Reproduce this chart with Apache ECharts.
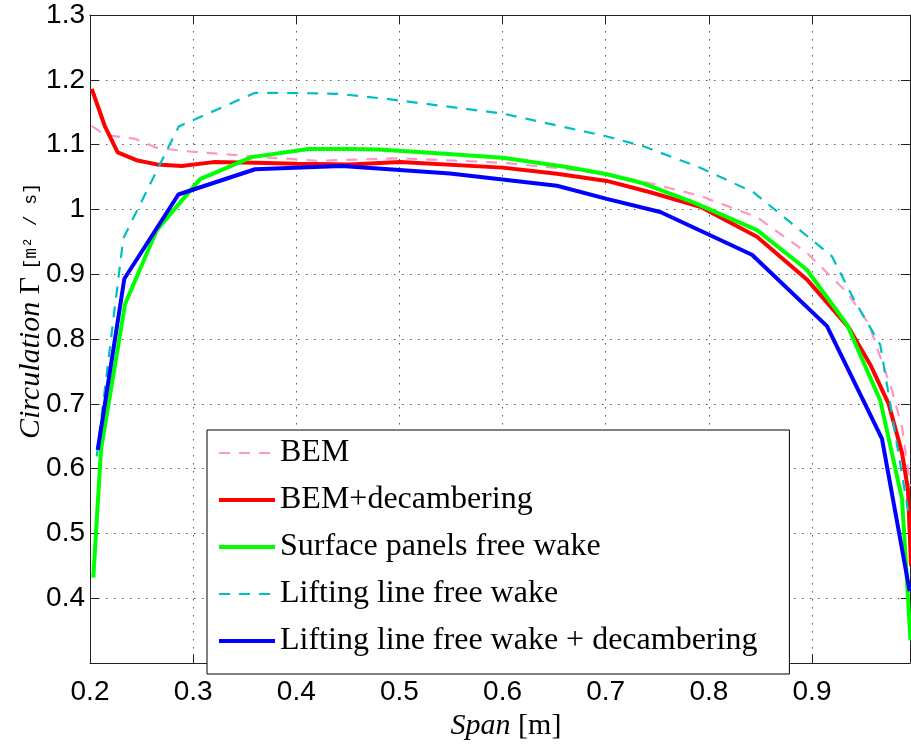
<!DOCTYPE html>
<html>
<head>
<meta charset="utf-8">
<script src="https://cdn.jsdelivr.net/npm/echarts@6/dist/echarts.min.js"></script>
<style>
html,body{margin:0;padding:0;background:#fff;}
#chart{width:911px;height:746px;}
</style>
</head>
<body>
<div id="chart"></div>
<script>
// ---- Data ----
const seriesNames = ['BEM', 'BEM+decambering', 'Surface panels free wake', 'Lifting line free wake', 'Lifting line free wake + decambering'];

const bemX = [0.2017, 0.2145, 0.2436, 0.2647, 0.2921, 0.3568, 0.4214, 0.4587, 0.5007, 0.6000, 0.6527, 0.7012, 0.7335, 0.7917, 0.8467, 0.8950, 0.9339, 0.9549, 0.9776, 0.9873, 0.9953];
const bemY = [1.129, 1.115, 1.109, 1.095, 1.090, 1.082, 1.075, 1.077, 1.079, 1.072, 1.064, 1.054, 1.044, 1.021, 0.988, 0.933, 0.872, 0.824, 0.720, 0.664, 0.573];

const bemDecX = [0.2017, 0.2145, 0.2268, 0.2450, 0.2647, 0.2890, 0.3196, 0.3600, 0.4000, 0.4520, 0.5007, 0.6000, 0.6527, 0.7010, 0.7432, 0.7917, 0.8467, 0.8950, 0.9355, 0.9565, 0.9743, 0.9873, 0.9930, 0.9960];
const bemDecY = [1.186, 1.128, 1.088, 1.076, 1.0695, 1.067, 1.073, 1.072, 1.0705, 1.0695, 1.073, 1.0645, 1.055, 1.044, 1.0265, 1.004, 0.958, 0.892, 0.818, 0.7605, 0.700, 0.624, 0.568, 0.450];

const panelX = [0.2032, 0.2107, 0.2340, 0.2647, 0.3067, 0.3568, 0.4118, 0.4520, 0.4797, 0.5330, 0.6000, 0.6623, 0.7012, 0.7335, 0.7850, 0.8467, 0.8950, 0.9340, 0.9662, 0.9873, 0.9955];
const panelY = [0.432, 0.630, 0.854, 0.968, 1.0467, 1.0807, 1.0933, 1.0933, 1.0923, 1.0872, 1.0796, 1.0655, 1.0543, 1.0416, 1.011, 0.968, 0.907, 0.822, 0.705, 0.553, 0.335];

const llX = [0.2065, 0.2243, 0.2323, 0.2860, 0.3600, 0.4020, 0.4408, 0.4861, 0.6000, 0.7012, 0.7366, 0.7917, 0.8433, 0.9193, 0.9404, 0.9662, 0.9937];
const llY = [0.619, 0.852, 0.9555, 1.128, 1.180, 1.1795, 1.1784, 1.1708, 1.148, 1.1126, 1.0974, 1.0644, 1.0264, 0.9277, 0.8618, 0.7909, 0.530];

const llDecX = [0.2075, 0.2333, 0.2857, 0.3600, 0.4441, 0.5490, 0.6527, 0.7010, 0.7529, 0.8418, 0.9145, 0.9678, 0.9947];
const llDecY = [0.629, 0.893, 1.023, 1.062, 1.067, 1.0553, 1.0366, 1.0163, 0.996, 0.930, 0.820, 0.6465, 0.411];

const xTicks = { min: 0.2, max: 0.995, interval: 0.1 };
const yTicks = { min: 0.3, max: 1.3, interval: 0.1 };

// ---- Build ----
function zip(xs, ys) { return xs.map((x, i) => [x, ys[i]]); }

const serif = 'Liberation Serif';
const sans = 'Liberation Sans';

const axisCommonX = {
  type: 'value', min: xTicks.min, max: xTicks.max, interval: xTicks.interval
};
const axisCommonY = {
  type: 'value', min: yTicks.min, max: yTicks.max, interval: yTicks.interval
};
const lineCol = '#222';

const chart = echarts.init(document.getElementById('chart'), null, { renderer: 'canvas' });

const seriesStyles = [
  { color: '#ff96c8', width: 2.2, type: [11, 9] },
  { color: '#ff0000', width: 4, type: 'solid' },
  { color: '#00ff00', width: 4, type: 'solid' },
  { color: '#00bfbf', width: 2.2, type: [11, 9] },
  { color: '#0000ff', width: 4, type: 'solid' }
];
const dataSets = [zip(bemX, bemY), zip(bemDecX, bemDecY), zip(panelX, panelY), zip(llX, llY), zip(llDecX, llDecY)];

const option = {
  animation: false,
  backgroundColor: '#fff',
  grid: { left: 90, right: 1, top: 15, bottom: 73, containLabel: false },
  xAxis: [
    Object.assign({}, axisCommonX, {
      position: 'bottom',
      axisLine: { show: true, onZero: false, lineStyle: { color: lineCol, width: 1 } },
      axisTick: { show: true, inside: true, length: 9, lineStyle: { color: lineCol } },
      axisLabel: { show: true, fontSize: 28, fontFamily: sans, color: '#000', margin: 15, showMaxLabel: false },
      splitLine: { show: true, lineStyle: { type: [1.5, 6.5], color: '#555', width: 1 } },
      name: '{i|Span }{r|[m]}',
      nameLocation: 'middle',
      nameGap: 45,
      nameTextStyle: {
        padding: [0, 0, 0, 12],
        rich: {
          i: { fontFamily: serif, fontStyle: 'italic', fontSize: 30, color: '#000' },
          r: { fontFamily: serif, fontSize: 30, color: '#000' }
        }
      }
    }),
    Object.assign({}, axisCommonX, {
      position: 'top',
      axisLine: { show: true, onZero: false, lineStyle: { color: lineCol, width: 1 } },
      axisTick: { show: true, inside: true, length: 9, lineStyle: { color: lineCol } },
      axisLabel: { show: false },
      splitLine: { show: false }
    })
  ],
  yAxis: [
    Object.assign({}, axisCommonY, {
      position: 'left',
      axisLine: { show: true, onZero: false, lineStyle: { color: lineCol, width: 1 } },
      axisTick: { show: true, inside: true, length: 9, lineStyle: { color: lineCol } },
      axisLabel: { show: true, fontSize: 28, fontFamily: sans, color: '#000', margin: 5, showMinLabel: false },
      splitLine: { show: true, lineStyle: { type: [1.5, 6.5], color: '#555', width: 1 } },
      name: '{i|Circulation }{g|Γ }{m|[m² / s]}',
      nameLocation: 'middle',
      nameRotate: 90,
      nameGap: 44,
      nameMoveOverlap: false,
      nameTextStyle: {
        padding: [0, 0, 0, 56],
        rich: {
          i: { fontFamily: serif, fontStyle: 'italic', fontSize: 30, color: '#000' },
          g: { fontFamily: serif, fontSize: 30, color: '#000' },
          m: { fontFamily: 'Liberation Mono', fontSize: 18, color: '#000' }
        }
      }
    }),
    Object.assign({}, axisCommonY, {
      position: 'right',
      axisLine: { show: true, onZero: false, lineStyle: { color: lineCol, width: 1 } },
      axisTick: { show: true, inside: true, length: 9, lineStyle: { color: lineCol } },
      axisLabel: { show: false },
      splitLine: { show: false }
    })
  ],
  legend: {
    orient: 'vertical',
    left: 207,
    top: 430,
    itemWidth: 56,
    itemHeight: 14,
    itemGap: 13,
    padding: [6, 32, 16, 10],
    backgroundColor: '#fff',
    borderColor: '#000',
    borderWidth: 1,
    selectedMode: false,
    z: 10,
    icon: 'inherit',
    itemStyle: { opacity: 0 },
    lineStyle: { width: 'inherit' },
    textStyle: { fontFamily: serif, fontSize: 32, lineHeight: 34, color: '#000' },
    data: seriesNames
  },
  series: seriesNames.map((name, i) => ({
    name: name,
    type: 'line',
    xAxisIndex: 0,
    yAxisIndex: 0,
    data: dataSets[i],
    symbol: 'none',
    showSymbol: false,
    clip: true,
    lineStyle: seriesStyles[i],
    itemStyle: { color: seriesStyles[i].color },
    emphasis: { disabled: true }
  }))
};
chart.setOption(option);
</script>
</body>
</html>
